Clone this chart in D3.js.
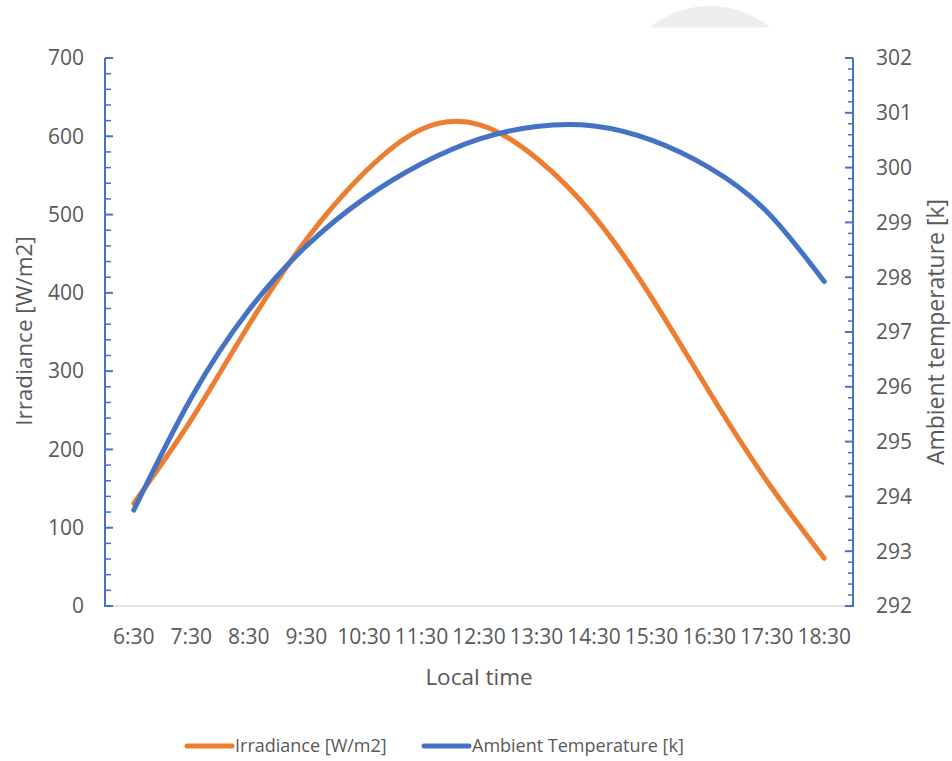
<!DOCTYPE html>
<html>
<head>
<meta charset="utf-8">
<script src="https://cdn.jsdelivr.net/npm/d3@7"></script>
<style>
  body { margin: 0; background: #fff; }
  svg text { font-family: "Open Sans", sans-serif; fill: #595959; }
</style>
</head>
<body>
<svg id="chart" width="952" height="761"></svg>
<script>
// data
const times = ["6:30", "7:30", "8:30", "9:30", "10:30", "11:30", "12:30",
               "13:30", "14:30", "15:30", "16:30", "17:30", "18:30"];
const irradiance = [131, 238, 359, 468, 553, 609, 615, 572, 498, 394, 274, 160, 61];
const ambientTemp = [293.75, 295.80, 297.40, 298.57, 299.43, 300.07, 300.52,
                     300.75, 300.76, 300.50, 300.00, 299.20, 297.92];
const leftTicks = [0, 100, 200, 300, 400, 500, 600, 700];
const rightTicks = [292, 293, 294, 295, 296, 297, 298, 299, 300, 301, 302];

const ORANGE = "#ED7D31", BLUE = "#4472C4";

const svg = d3.select("#chart");
const margin = { left: 105, right: 99, top: 57, bottom: 155 };
const W = 952, H = 761;

// faint grey arc at top of the image
svg.append("clipPath").attr("id", "arcClip")
  .append("rect").attr("x", 0).attr("y", 0).attr("width", W).attr("height", 27.5);
svg.append("circle")
  .attr("cx", 710).attr("cy", 101).attr("r", 95)
  .attr("fill", "#eeeeee")
  .attr("clip-path", "url(#arcClip)");

const x = d3.scaleBand().domain(times).range([margin.left, W - margin.right]);
const yL = d3.scaleLinear().domain([0, 700]).range([H - margin.bottom, margin.top + 1]);
const yR = d3.scaleLinear().domain([292, 302]).range([H - margin.bottom, margin.top + 1]);
const x0 = margin.left, x1 = W - margin.right, yBase = yL(0);

// x axis baseline
svg.append("line")
  .attr("x1", x0).attr("x2", x1).attr("y1", yBase).attr("y2", yBase)
  .attr("stroke", "#d9d9d9").attr("stroke-width", 1.5);

// left axis with minor ticks
const gL = svg.append("g");
gL.append("line").attr("x1", x0).attr("x2", x0).attr("y1", yL(700)).attr("y2", yBase + 1)
  .attr("stroke", BLUE).attr("stroke-width", 2);
d3.range(0, 701, 20).forEach(v => {
  const major = v % 100 === 0;
  gL.append("line")
    .attr("x1", x0).attr("x2", x0 + (major ? 8 : 6))
    .attr("y1", yL(v)).attr("y2", yL(v))
    .attr("stroke", BLUE).attr("stroke-width", major ? 2 : 1.5);
});
gL.selectAll("text.tl").data(leftTicks).join("text")
  .attr("x", 84).attr("y", d => yL(d)).attr("dy", "0.35em")
  .attr("text-anchor", "end").style("font-size", "21px").text(d => d);

// right axis with minor ticks
const gR = svg.append("g");
gR.append("line").attr("x1", x1).attr("x2", x1).attr("y1", yR(302)).attr("y2", yBase + 1)
  .attr("stroke", BLUE).attr("stroke-width", 2);
d3.range(0, 51).forEach(i => {
  const v = 292 + i * 0.2;
  const major = i % 5 === 0;
  gR.append("line")
    .attr("x1", x1).attr("x2", x1 - (major ? 8 : 5))
    .attr("y1", yR(v)).attr("y2", yR(v))
    .attr("stroke", BLUE).attr("stroke-width", major ? 2 : 1.5);
});
gR.selectAll("text.tr").data(rightTicks).join("text")
  .attr("x", 876).attr("y", d => yR(d)).attr("dy", "0.35em")
  .attr("text-anchor", "start").style("font-size", "21px").text(d => d);

// x tick labels
svg.selectAll("text.xl").data(times).join("text")
  .attr("x", d => x(d) + x.bandwidth() / 2).attr("y", 637).attr("dy", "0.35em")
  .attr("text-anchor", "middle").style("font-size", "21px").text(d => d);

// axis titles
svg.append("text").attr("x", 479).attr("y", 677).attr("dy", "0.35em")
  .attr("text-anchor", "middle").style("font-size", "22.5px").text("Local time");
svg.append("text").attr("transform", "translate(24,331) rotate(-90)").attr("dy", "0.35em")
  .attr("text-anchor", "middle").style("font-size", "22.5px").text("Irradiance [W/m2]");
svg.append("text").attr("transform", "translate(936,332) rotate(-90)").attr("dy", "0.35em")
  .attr("text-anchor", "middle").style("font-size", "23px").text("Ambient temperature [k]");

// series (smoothed lines)
const cx = (d, i) => x(times[i]) + x.bandwidth() / 2;
const lineL = d3.line().x(cx).y(d => yL(d)).curve(d3.curveNatural);
const lineR = d3.line().x(cx).y(d => yR(d)).curve(d3.curveNatural);

svg.append("path").datum(irradiance).attr("d", lineL)
  .attr("fill", "none").attr("stroke", ORANGE).attr("stroke-width", 5)
  .attr("stroke-linecap", "round").attr("stroke-linejoin", "round");
svg.append("path").datum(ambientTemp).attr("d", lineR)
  .attr("fill", "none").attr("stroke", BLUE).attr("stroke-width", 5)
  .attr("stroke-linecap", "round").attr("stroke-linejoin", "round");

// legend
const legend = [
  { name: "Irradiance [W/m2]", color: ORANGE, x: 187 },
  { name: "Ambient Temperature [k]", color: BLUE, x: 424 }
];
const lg = svg.selectAll("g.leg").data(legend).join("g")
  .attr("transform", d => `translate(${d.x},746)`);
lg.append("line").attr("x1", 0).attr("x2", 45).attr("y1", 0).attr("y2", 0)
  .attr("stroke", d => d.color).attr("stroke-width", 5).attr("stroke-linecap", "round");
lg.append("text").attr("x", 48).attr("dy", "0.35em").style("font-size", "18px")
  .text(d => d.name);
</script>
</body>
</html>
